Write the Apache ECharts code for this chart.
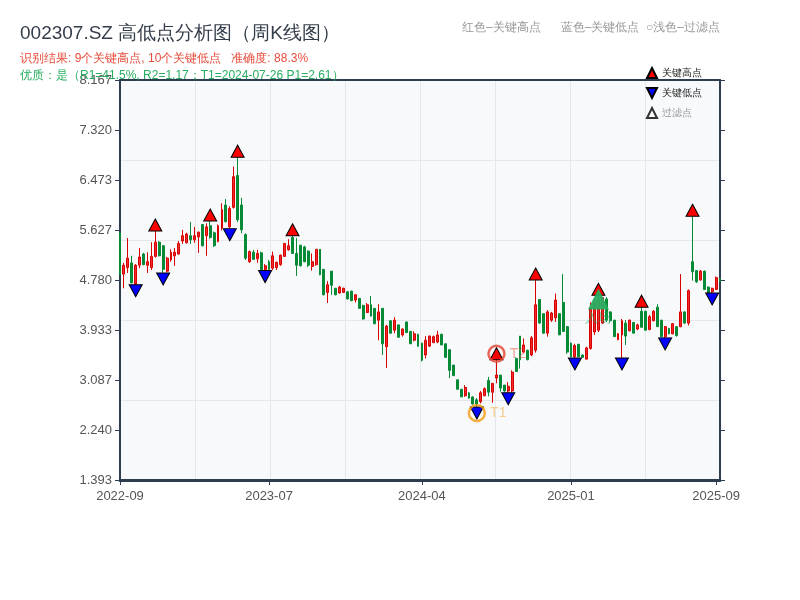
<!DOCTYPE html>
<html><head><meta charset="utf-8">
<script src="https://cdn.jsdelivr.net/npm/echarts@6/dist/echarts.min.js"></script>
<style>html,body{margin:0;padding:0;background:#fff}#c{width:800px;height:600px}</style>
</head><body><div id="c"></div>
<script>
const opens = [5.58,4.88,4.99,5.07,4.71,5.03,5.22,5.03,4.99,5.18,5.42,5.36,4.93,5.12,5.19,5.22,5.44,5.41,5.53,5.46,
5.51,5.72,5.53,5.70,5.58,5.43,5.66,6.05,5.68,6.01,6.55,6.05,5.55,5.09,5.25,5.14,5.24,4.96,5.09,4.98,
4.99,5.04,5.18,5.29,5.50,5.23,5.37,5.34,5.27,5.01,5.04,5.30,4.96,4.57,4.93,4.64,4.56,4.57,4.58,4.59,
4.44,4.47,4.35,4.23,4.36,4.30,4.10,4.30,3.65,4.09,3.93,4.02,3.85,4.07,3.91,3.76,3.86,3.71,3.51,3.66,
3.72,3.73,3.86,3.70,3.60,3.34,3.09,2.93,2.82,2.87,2.80,2.75,2.72,2.82,3.08,2.88,3.12,3.17,3.00,2.90,
2.90,3.45,3.83,3.56,3.59,3.51,3.59,4.45,4.21,3.88,4.10,4.14,4.21,4.40,3.99,3.71,3.48,3.69,3.51,3.44,
3.62,3.90,3.93,4.05,4.46,4.24,4.10,3.77,3.85,4.05,3.92,4.06,3.95,4.25,4.25,3.94,4.09,4.32,4.10,3.82,
3.96,3.87,3.99,3.99,4.24,4.05,5.09,4.94,4.78,4.93,4.66,4.58,4.62,4.80];
const closes = [4.87,5.03,5.15,4.73,5.03,5.17,5.04,5.09,5.18,5.42,5.19,4.96,5.15,5.25,5.25,5.40,5.53,5.56,5.46,5.53,
5.59,5.36,5.68,5.50,5.36,5.70,5.97,5.77,5.99,6.53,5.80,5.63,5.15,5.26,5.13,5.23,4.95,5.02,4.96,5.19,
5.08,5.20,5.40,5.36,5.23,5.03,5.02,5.09,5.03,5.09,5.30,4.87,4.53,4.70,4.69,4.53,4.66,4.64,4.46,4.43,
4.53,4.30,4.12,4.36,4.17,4.04,4.24,3.70,4.00,3.88,4.10,3.81,3.95,3.89,3.70,3.87,3.66,3.42,3.76,3.83,
3.82,3.85,3.68,3.47,3.25,3.16,2.93,2.80,2.96,2.78,2.68,2.68,2.87,2.94,2.88,3.03,3.17,2.95,2.90,2.98,
3.22,3.23,3.43,3.68,3.43,3.80,4.36,4.05,3.88,4.24,4.22,4.44,3.85,3.91,3.56,3.48,3.67,3.48,3.47,3.63,
4.30,4.40,4.44,4.48,4.10,4.09,3.82,3.87,4.09,3.83,4.10,3.88,4.02,3.98,3.93,4.16,4.25,3.99,3.82,3.99,
3.87,4.04,3.84,4.24,4.05,4.60,4.92,4.75,4.93,4.62,4.55,4.64,4.82,4.76];
const lows = [4.87,4.64,4.90,4.73,4.70,4.98,5.03,4.90,4.95,5.16,5.18,4.90,4.91,5.09,5.02,5.21,5.39,5.40,5.39,5.41,
5.24,5.35,5.19,5.48,5.34,5.42,5.62,5.75,5.65,5.99,5.76,5.57,5.12,5.07,5.12,5.07,4.95,4.94,4.95,4.95,
4.95,5.02,5.17,5.28,5.23,4.85,5.01,5.08,5.00,4.94,5.02,4.86,4.52,4.39,4.53,4.52,4.55,4.56,4.45,4.42,
4.40,4.30,4.11,4.22,4.16,4.03,3.76,3.51,3.29,3.87,3.88,3.81,3.82,3.88,3.70,3.74,3.65,3.40,3.45,3.65,
3.71,3.71,3.68,3.46,3.12,3.16,2.93,2.80,2.80,2.77,2.67,2.63,2.69,2.81,2.81,2.70,3.03,2.89,2.89,2.87,
2.88,3.23,3.28,3.54,3.42,3.49,3.55,4.04,3.87,3.82,4.07,4.07,3.85,3.90,3.53,3.48,3.46,3.48,3.47,3.44,
3.60,3.85,3.90,4.04,4.07,4.06,3.82,3.76,3.46,3.68,3.91,3.88,3.93,3.98,3.93,3.93,4.08,3.99,3.82,3.80,
3.86,3.86,3.82,3.98,4.04,4.01,4.77,4.73,4.77,4.61,4.54,4.56,4.61,4.75];
const highs = [5.58,5.07,5.49,5.19,5.05,5.32,5.24,5.25,5.42,5.61,5.44,5.37,5.17,5.30,5.32,5.44,5.63,5.58,5.76,5.68,
5.60,5.73,5.74,5.78,5.60,5.72,6.08,6.15,6.03,6.70,6.86,6.17,5.57,5.28,5.29,5.29,5.26,5.05,5.12,5.26,
5.09,5.21,5.40,5.47,5.53,5.49,5.37,5.36,5.28,5.23,5.30,5.30,4.96,4.76,4.93,4.64,4.68,4.65,4.59,4.60,
4.54,4.47,4.36,4.39,4.51,4.30,4.37,4.30,4.02,4.10,4.15,4.02,3.96,4.07,3.91,3.91,3.87,3.72,3.83,3.84,
3.84,3.92,3.87,3.70,3.60,3.34,3.09,2.93,3.00,2.88,2.81,2.78,2.90,2.96,3.14,3.03,3.43,3.17,3.00,3.05,
3.25,3.47,3.83,3.79,3.60,3.83,4.78,4.45,4.21,4.27,4.24,4.55,4.21,4.88,4.00,3.72,3.70,3.70,3.52,3.65,
4.40,4.47,4.52,4.49,4.49,4.25,4.10,3.88,4.12,4.10,4.11,4.07,4.04,4.32,4.26,4.19,4.27,4.37,4.10,4.00,
3.97,4.05,4.00,4.88,4.25,4.62,5.86,4.95,4.95,4.94,4.67,4.65,4.84,4.81];
const keyHighIdx = [9,23,30,44,96,106,122,133,146];
const keyLowIdx = [4,11,28,37,91,99,116,128,139,151];
const t1Idx = 91, t2Idx = 96;
const entryIdx = 122, entryPrice = 4.46;
const tickIdx = [0,38,77,115,152,153];
const tickLabels = ['2022-09','2023-07','2024-04','2025-01','2025-09','2025-09'];
const yMin = 1.393, yMax = 8.167;

const cats = opens.map((_, i) => String(i));
const kdata = opens.map((o, i) => [o, closes[i], lows[i], highs[i]]);
const yInt = (yMax - yMin) / 8;
const dark = '#2c3e50';
const gridColor = '#e4e7eb';
const downTri = 'path://M0,0L10,0L5,10Z';

const chart = echarts.init(document.getElementById('c'));
chart.setOption({
  animation: false,
  backgroundColor: '#fff',
  title: [
    {text: '002307.SZ 高低点分析图（周K线图）', left: 15, top: 19, textStyle: {fontSize: 19, fontWeight: 'normal', color: '#333d4a'}},
    {text: '识别结果: 9个关键高点, 10个关键低点   准确度: 88.3%', left: 15, top: 48, textStyle: {fontSize: 12, fontWeight: 'normal', color: '#e74c3c'}},
    {text: '优质：是（R1=41.5%, R2=1.17；T1=2024-07-26 P1=2.61）', left: 15, top: 65, textStyle: {fontSize: 12, fontWeight: 'normal', color: '#27ae60'}},
    {text: '红色–关键高点      蓝色–关键低点  ○浅色–过滤点', left: 457, top: 17, textStyle: {fontSize: 12, fontWeight: 'normal', color: '#999'}}
  ],
  legend: {
    orient: 'vertical', left: 641, top: 62, itemWidth: 10, itemHeight: 10, itemGap: 8,
    textStyle: {fontSize: 10, color: '#222'},
    data: [{name: '关键高点'}, {name: '关键低点'}, {name: '过滤点', textStyle: {color: '#999'}}]
  },
  grid: {left: 120, right: 80, top: 80, bottom: 120, show: true, backgroundColor: '#f8f9fb', borderWidth: 0},
  xAxis: [
    {type: 'category', data: cats, boundaryGap: false,
     axisLine: {lineStyle: {color: dark, width: 3}},
     axisTick: {interval: (i) => tickIdx.includes(i), length: 5, lineStyle: {color: dark}},
     axisLabel: {interval: (i) => tickIdx.includes(i), formatter: (v, i) => tickLabels[tickIdx.indexOf(i)], color: '#555', fontSize: 13, margin: 10},
     splitLine: {show: false}},
    {type: 'value', position: 'top', min: 0, max: 8, interval: 1,
     axisLine: {show: true, onZero: false, lineStyle: {color: dark, width: 2}},
     axisTick: {show: false}, axisLabel: {show: false},
     splitLine: {show: true, lineStyle: {color: gridColor, width: 1}}}
  ],
  yAxis: [
    {type: 'value', min: yMin, max: yMax, interval: yInt, position: 'left',
     axisLine: {show: true, onZero: false, lineStyle: {color: dark, width: 2}},
     axisTick: {show: true, length: 5, lineStyle: {color: dark}},
     axisLabel: {formatter: (v) => v.toFixed(3), color: '#555', fontSize: 13, margin: 8},
     splitLine: {show: false}},
    {type: 'value', min: yMin, max: yMax, interval: yInt, position: 'right',
     axisLine: {show: true, onZero: false, lineStyle: {color: dark, width: 2}},
     axisTick: {show: true, length: 5, lineStyle: {color: dark}},
     axisLabel: {show: false}, splitLine: {show: false}},
    {type: 'value', min: 0, max: 5, interval: 1, position: 'left',
     axisLine: {show: false}, axisTick: {show: false}, axisLabel: {show: false},
     splitLine: {show: true, lineStyle: {color: gridColor, width: 1}}}
  ],
  series: [
    {type: 'candlestick', name: 'K线', data: kdata, barWidth: 2.4, z: 2,
     itemStyle: {color: '#ee2a2a', color0: '#078a36', borderColor: '#d80000', borderColor0: '#078a36', borderWidth: 1}},
    {type: 'scatter', name: '关键高点', symbol: 'triangle', symbolSize: [13, 12], symbolOffset: [0, '-50%'],
     data: keyHighIdx.map(i => [i, highs[i]]), z: 5,
     itemStyle: {color: '#ff0000', borderColor: '#000', borderWidth: 1, opacity: 1}},
    {type: 'scatter', name: '关键低点', symbol: downTri, symbolSize: [13, 12], symbolOffset: [0, '50%'],
     data: keyLowIdx.map(i => [i, lows[i]]), z: 5,
     itemStyle: {color: '#0000ff', borderColor: '#000', borderWidth: 1, opacity: 1}},
    {type: 'scatter', name: '过滤点', symbol: 'triangle', symbolSize: 8, data: [],
     itemStyle: {color: '#fff', borderColor: '#000', borderWidth: 1}},
    {type: 'scatter', name: 'T1', symbol: 'circle', symbolSize: 16, symbolOffset: [0, 6],
     data: [[t1Idx, lows[t1Idx]]], z: 20,
     itemStyle: {color: 'rgba(0,0,0,0)', borderColor: '#f39c12', borderWidth: 2.5},
     label: {show: true, formatter: 'T1', position: 'right', distance: 4, color: 'rgba(243,156,18,0.6)', fontSize: 14}},
    {type: 'scatter', name: 'T2', symbol: 'circle', symbolSize: 16, symbolOffset: [0, -6],
     data: [[t2Idx, highs[t2Idx]]], z: 20,
     itemStyle: {color: 'rgba(0,0,0,0)', borderColor: '#e74c3c', borderWidth: 2.5, opacity: 0.85},
     label: {show: true, formatter: 'T2', position: 'right', distance: 4, color: 'rgba(231,76,60,0.6)', fontSize: 14}},
    {type: 'scatter', name: '入场', symbol: 'triangle', symbolSize: [21, 21],
     data: [[entryIdx, entryPrice]], z: 30,
     itemStyle: {color: '#27ae60', opacity: 0.95},
     label: {show: true, formatter: '入场', position: 'bottom', distance: 3, color: 'rgba(39,174,96,0.6)', fontSize: 13}}
  ]
});
</script></body></html>
